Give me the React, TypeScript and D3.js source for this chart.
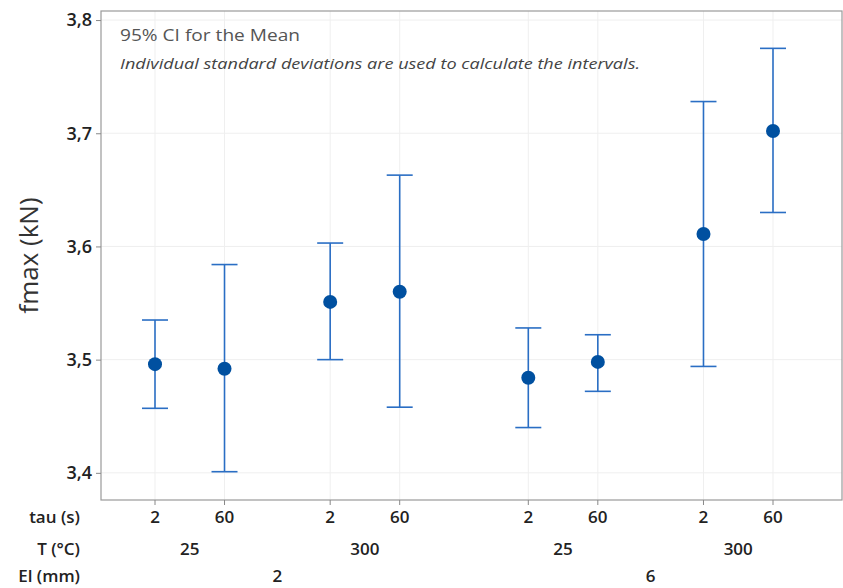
import React, { useEffect, useRef } from "react";
import * as d3 from "d3";

// interval plot data (fmax, kN)
const tauLabels = ["2", "60", "2", "60", "2", "60", "2", "60"];
const tempLabels = ["25", "300", "25", "300"];
const elLabels = ["2", "6"];
const rowLabels = ["tau (s)", "T (°C)", "El (mm)"];
const means = [3.496, 3.492, 3.551, 3.56, 3.484, 3.498, 3.611, 3.702];
const lowers = [3.457, 3.401, 3.5, 3.458, 3.44, 3.472, 3.494, 3.63];
const uppers = [3.535, 3.584, 3.603, 3.663, 3.528, 3.522, 3.728, 3.775];
const yTicks = [3.4, 3.5, 3.6, 3.7, 3.8];

const W = 843;
const H = 588;
const font = "'Open Sans', 'Noto Sans', sans-serif";

// slot position: index plus gaps between T groups and El groups
const slot = (i: number) => i + 0.52 * Math.floor(i / 2) + 0.33 * Math.floor(i / 4);

const App = () => {
  const svgRef = useRef<SVGSVGElement>(null);

  useEffect(() => {
    const svg = d3.select(svgRef.current);
    svg.selectAll("*").remove();

    const left = 101, right = 842, top = 11, bottom = 500;
    const rowY = [523, 555, 582];

    const y = d3.scaleLinear().domain([3.376, 3.808]).range([bottom, top]);
    const x = d3.scaleLinear().domain([0, slot(7)]).range([155, 773]);

    // grid
    svg.append("g")
      .selectAll("line")
      .data(yTicks)
      .join("line")
      .attr("x1", left).attr("x2", right)
      .attr("y1", (d) => y(d)).attr("y2", (d) => y(d))
      .attr("stroke", "#efefef");
    svg.append("g")
      .selectAll("line")
      .data(means)
      .join("line")
      .attr("x1", (d, i) => x(slot(i))).attr("x2", (d, i) => x(slot(i)))
      .attr("y1", top).attr("y2", bottom)
      .attr("stroke", "#efefef");

    // frame
    svg.append("rect")
      .attr("x", left).attr("y", top)
      .attr("width", right - left).attr("height", bottom - top)
      .attr("fill", "none").attr("stroke", "#9a9a9a").attr("stroke-width", 1.2);

    // y axis
    const fmt = (d: number) => d3.format(".1f")(d).replace(".", ",");
    const yAxis = svg.append("g")
      .attr("transform", `translate(${left},0)`)
      .call(d3.axisLeft(y).tickValues(yTicks).tickFormat(fmt as any).tickSize(5).tickPadding(4));
    yAxis.select(".domain").remove();
    yAxis.selectAll("line").attr("stroke", "#888");
    yAxis.selectAll("text")
      .attr("font-family", font).attr("font-size", 18).attr("font-weight", 600).attr("fill", "#222");

    svg.append("text")
      .attr("transform", `translate(38,${(top + bottom) / 2}) rotate(-90)`)
      .attr("text-anchor", "middle")
      .attr("font-family", font).attr("font-size", 26).attr("fill", "#333")
      .text("fmax (kN)");

    // x ticks
    svg.append("g")
      .selectAll("line")
      .data(means)
      .join("line")
      .attr("x1", (d, i) => x(slot(i))).attr("x2", (d, i) => x(slot(i)))
      .attr("y1", bottom).attr("y2", bottom + 5)
      .attr("stroke", "#888");

    const labStyle = (sel: any) =>
      sel.attr("font-family", font).attr("font-size", 17).attr("font-weight", 600)
        .attr("fill", "#222").attr("text-anchor", "middle");

    labStyle(svg.append("g").selectAll("text").data(tauLabels).join("text"))
      .attr("x", (d: string, i: number) => x(slot(i)))
      .attr("y", rowY[0])
      .text((d: string) => d);
    labStyle(svg.append("g").selectAll("text").data(tempLabels).join("text"))
      .attr("x", (d: string, i: number) => (x(slot(2 * i)) + x(slot(2 * i + 1))) / 2)
      .attr("y", rowY[1])
      .text((d: string) => d);
    labStyle(svg.append("g").selectAll("text").data(elLabels).join("text"))
      .attr("x", (d: string, i: number) => (x(slot(4 * i)) + x(slot(4 * i + 3))) / 2)
      .attr("y", rowY[2])
      .text((d: string) => d);

    labStyle(svg.append("g").selectAll("text").data(rowLabels).join("text"))
      .attr("text-anchor", "end")
      .attr("x", 80)
      .attr("y", (d: string, i: number) => rowY[i])
      .text((d: string) => d);

    // notes
    svg.append("text")
      .attr("x", 120).attr("y", 41)
      .attr("font-family", font).attr("font-size", 17).attr("fill", "#555")
      .attr("textLength", 180).attr("lengthAdjust", "spacingAndGlyphs")
      .text("95% CI for the Mean");
    svg.append("text")
      .attr("x", 120).attr("y", 69)
      .attr("font-family", font).attr("font-size", 15).attr("font-style", "italic").attr("fill", "#444")
      .attr("textLength", 520).attr("lengthAdjust", "spacingAndGlyphs")
      .text("Individual standard deviations are used to calculate the intervals.");

    // intervals
    const g = svg.append("g").attr("stroke", "#2a6ec4").attr("stroke-width", 1.6);
    means.forEach((m, i) => {
      const cx = x(slot(i));
      g.append("line").attr("x1", cx).attr("x2", cx).attr("y1", y(lowers[i])).attr("y2", y(uppers[i]));
      g.append("line").attr("x1", cx - 13).attr("x2", cx + 13).attr("y1", y(lowers[i])).attr("y2", y(lowers[i]));
      g.append("line").attr("x1", cx - 13).attr("x2", cx + 13).attr("y1", y(uppers[i])).attr("y2", y(uppers[i]));
    });
    svg.append("g")
      .selectAll("circle")
      .data(means)
      .join("circle")
      .attr("cx", (d, i) => x(slot(i)))
      .attr("cy", (d) => y(d))
      .attr("r", 7)
      .attr("fill", "#0050a0");
  }, []);

  return (
    <svg
      ref={svgRef}
      width={W}
      height={H}
      style={{ position: "absolute", left: 0, top: 0, background: "#fff" }}
    />
  );
};

export default App;
